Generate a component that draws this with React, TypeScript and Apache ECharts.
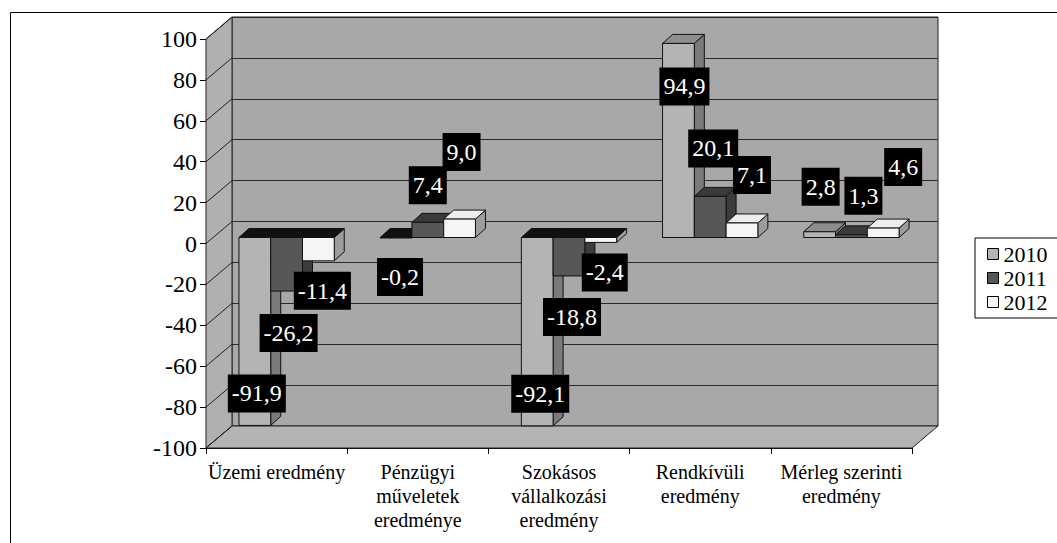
import React, { useEffect, useRef } from "react";
import * as echarts from "echarts";

const categories = [
  "Üzemi eredmény",
  "Pénzügyi\nműveletek\neredménye",
  "Szokásos\nvállalkozási\neredmény",
  "Rendkívüli\neredmény",
  "Mérleg szerinti\neredmény",
];
const seriesNames = ["2010", "2011", "2012"];
const values2010 = [-91.9, -0.2, -92.1, 94.9, 2.8];
const values2011 = [-26.2, 7.4, -18.8, 20.1, 1.3];
const values2012 = [-11.4, 9.0, -2.4, 7.1, 4.6];
const yTickValues = [-100, -80, -60, -40, -20, 0, 20, 40, 60, 80, 100];

// label box offsets (px) relative to the end of each bar's front face
const labelOffsets2010 = [[2, -32], [4, 39], [3, -32], [6, 43], [1, -45]];
const labelOffsets2011 = [[2, 42], [0, -37], [3, 41], [3, -48], [12, -39]];
const labelOffsets2012 = [[4, 30], [2, -67], [4, 30], [10, -48], [20, -61]];

const FONT = "serif";
const LABEL_FONT = "Liberation Serif";
const DX = 10;
const DY = -9;
const WALL_DX = 26;
const WALL_DY = 22;

const barStyles = [
  { front: "#b4b4b4", top: "#8e8e8e", topNeg: "#111", side: "#7a7a7a" },
  { front: "#575757", top: "#3a3a3a", topNeg: "#111", side: "#3c3c3c" },
  { front: "#f5f5f5", top: "#eeeeee", topNeg: "#111", side: "#9c9c9c" },
];

const fmt = (v: number) => v.toFixed(1).replace(".", ",");

function makeBarRender(si: number, offs: number[][]) {
  const st = barStyles[si];
  return (params: any, api: any) => {
    const ci = api.value(0);
    const v = api.value(1);
    const band = api.size([1, 0])[0];
    const bw = band * 0.225;
    const base = api.coord([ci, 0]);
    const end = api.coord([ci, v]);
    const cx = base[0] + (si - 1) * bw;
    const x0 = cx - bw / 2;
    const x1 = cx + bw / 2;
    const yT = Math.min(base[1], end[1]);
    const yB = Math.max(base[1], end[1]);
    const stroke = { stroke: "#111", lineWidth: 1 };
    const off = offs[params.dataIndex];
    return {
      type: "group",
      children: [
        {
          type: "polygon",
          shape: { points: [[x1, yT], [x1 + DX, yT + DY], [x1 + DX, yB + DY], [x1, yB]] },
          style: { fill: st.side, ...stroke },
        },
        {
          type: "polygon",
          shape: { points: [[x0, yT], [x0 + DX, yT + DY], [x1 + DX, yT + DY], [x1, yT]] },
          style: { fill: v < 0 ? st.topNeg : st.top, ...stroke },
        },
        {
          type: "rect",
          shape: { x: x0, y: yT, width: bw, height: Math.max(yB - yT, 0.5) },
          style: { fill: st.front, ...stroke },
        },
        {
          type: "text",
          z2: 100,
          style: {
            text: fmt(v),
            x: cx + off[0],
            y: end[1] + off[1],
            align: "center",
            verticalAlign: "middle",
            fill: "#fff",
            backgroundColor: "#000",
            padding: [8, 4, 6, 4],
            font: "24px " + LABEL_FONT,
          },
        },
      ],
    };
  };
}

const seriesValues = [values2010, values2011, values2012];
const seriesOffsets = [labelOffsets2010, labelOffsets2011, labelOffsets2012];

const option: any = {
  animation: false,
  backgroundColor: "#ffffff",
  graphic: [
    {
      type: "rect",
      z: -10,
      shape: { x: 10.5, y: 12.5, width: 1100, height: 600 },
      style: { fill: "none", stroke: "#000", lineWidth: 1 },
    },
  ],
  grid: [
    { left: 206, top: 39, width: 706, height: 409 },
    {
      left: 232,
      top: 17,
      width: 706,
      height: 409,
      show: true,
      backgroundColor: "#a8a8a8",
      borderColor: "#222",
      borderWidth: 1,
    },
    { left: 216, top: 33, width: 706, height: 409 },
  ],
  xAxis: [
    {
      gridIndex: 0,
      type: "category",
      data: categories,
      axisLine: { onZero: false, lineStyle: { color: "#000", width: 1 } },
      axisTick: { show: true, interval: 0, length: 6, lineStyle: { color: "#000" } },
      axisLabel: {
        interval: 0,
        color: "#000",
        fontSize: 20,
        lineHeight: 24,
        margin: 12,
        fontFamily: FONT,
      },
      splitLine: { show: false },
    },
    { gridIndex: 1, type: "category", data: categories, show: false },
    { gridIndex: 2, type: "category", data: categories, show: false },
  ],
  yAxis: [
    {
      gridIndex: 0,
      type: "value",
      min: -100,
      max: 100,
      interval: 20,
      axisLine: { show: true, lineStyle: { color: "#000" } },
      axisTick: { show: true, length: 6, lineStyle: { color: "#000" } },
      axisLabel: { color: "#000", fontSize: 24, margin: 9, fontFamily: FONT },
      splitLine: { show: false },
    },
    {
      gridIndex: 1,
      type: "value",
      min: -100,
      max: 100,
      interval: 20,
      axisLine: { show: false },
      axisTick: { show: false },
      axisLabel: { show: false },
      splitLine: { show: true, lineStyle: { color: "#2a2a2a", width: 1 } },
    },
    { gridIndex: 2, type: "value", min: -100, max: 100, interval: 20, show: false },
  ],
  legend: {
    data: seriesNames,
    orient: "vertical",
    left: 975,
    top: 238,
    padding: [5, 10, 5, 12],
    itemGap: 2,
    itemWidth: 11,
    itemHeight: 11,
    icon: "rect",
    selectedMode: false,
    borderColor: "#000",
    borderWidth: 1,
    itemStyle: { borderColor: "#000", borderWidth: 1 },
    textStyle: { fontSize: 22, color: "#000", fontFamily: LABEL_FONT },
  },
  series: [
    {
      type: "custom",
      name: "walls",
      xAxisIndex: 1,
      yAxisIndex: 1,
      z: 1,
      silent: true,
      data: [[0, 0]],
      renderItem: (params: any) => {
        const cs = params.coordSys;
        const x = cs.x;
        const y = cs.y;
        const w = cs.width;
        const h = cs.height;
        return {
          type: "group",
          children: [
            {
              type: "polygon",
              shape: {
                points: [
                  [x - WALL_DX, y + WALL_DY],
                  [x, y],
                  [x, y + h],
                  [x - WALL_DX, y + h + WALL_DY],
                ],
              },
              style: { fill: "#b0b0b0", stroke: "#222", lineWidth: 1 },
            },
            {
              type: "polygon",
              shape: {
                points: [
                  [x - WALL_DX, y + h + WALL_DY],
                  [x, y + h],
                  [x + w, y + h],
                  [x + w - WALL_DX, y + h + WALL_DY],
                ],
              },
              style: { fill: "#b4b4b4", stroke: "#222", lineWidth: 1 },
            },
          ],
        };
      },
    },
    {
      type: "custom",
      name: "wallLines",
      xAxisIndex: 1,
      yAxisIndex: 1,
      z: 1,
      silent: true,
      data: yTickValues.map((v) => [0, v]),
      renderItem: (params: any, api: any) => {
        const cs = params.coordSys;
        const p = api.coord([0, api.value(1)]);
        return {
          type: "line",
          shape: { x1: cs.x, y1: p[1], x2: cs.x - WALL_DX, y2: p[1] + WALL_DY },
          style: { stroke: "#222", lineWidth: 1 },
        };
      },
    },
    ...seriesNames.map((name, si) => ({
      type: "custom",
      name,
      xAxisIndex: 2,
      yAxisIndex: 2,
      z: 3,
      itemStyle: { color: barStyles[si].front, borderColor: "#000", borderWidth: 1 },
      encode: { x: 0, y: 1 },
      data: seriesValues[si].map((v, i) => [i, v]),
      renderItem: makeBarRender(si, seriesOffsets[si]),
    })),
  ],
};

export default function App() {
  const ref = useRef<HTMLDivElement>(null);
  useEffect(() => {
    const chart = echarts.init(ref.current!, null, { renderer: "svg" });
    chart.setOption(option);
    return () => chart.dispose();
  }, []);
  return (
    <div
      ref={ref}
      style={{ position: "fixed", left: 0, top: 0, width: 1057, height: 543, background: "#fff" }}
    />
  );
}
